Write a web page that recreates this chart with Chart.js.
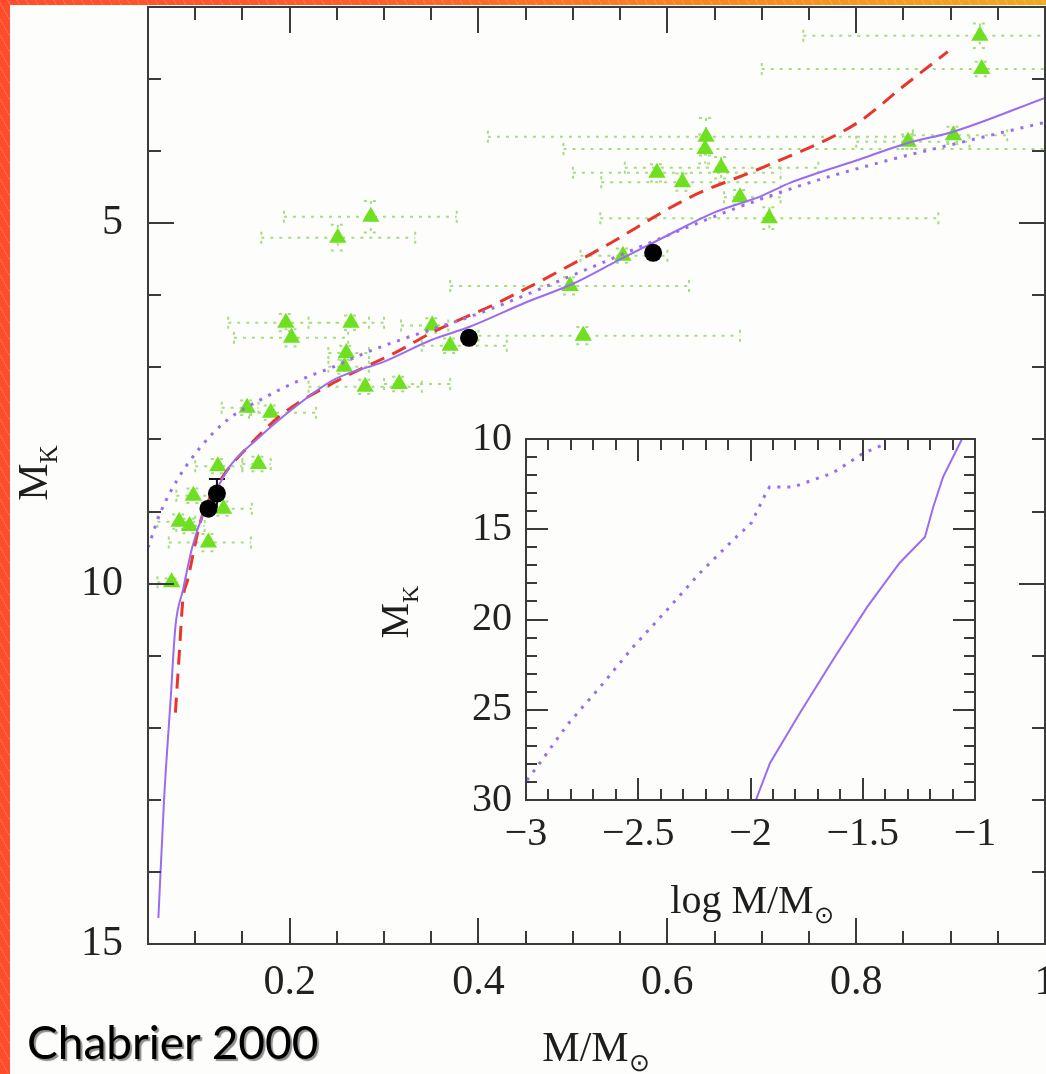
<!DOCTYPE html>
<html>
<head>
<meta charset="utf-8">
<script src="https://cdn.jsdelivr.net/npm/chart.js@4.4.1/dist/chart.umd.min.js"></script>
<style>
  html, body { margin: 0; padding: 0; }
  body {
    width: 1046px; height: 1074px; overflow: hidden; position: relative;
    background: linear-gradient(90deg, #ff4d2b 0%, #ff5d28 35%, #f7951f 80%, #f2a81f 100%);
  }
  .stripes {
    position: absolute; left: 0; top: 0; right: 0; bottom: 0;
    background: repeating-linear-gradient(60deg, rgba(255,255,255,0) 0 7px, rgba(255,255,255,0.16) 7px 8px);
  }
  .panel { position: absolute; left: 10px; top: 5px; right: 0; bottom: 0; background: #fdfdfb; }
  canvas { position: absolute; }
  .lbl {
    position: absolute; font-family: "Liberation Serif", serif; color: #1e1e1e;
    white-space: nowrap; line-height: 1; text-align: center;
  }
  .lbl sub { font-size: 0.6em; vertical-align: -0.4em; line-height: 0; }
  .rot { transform: rotate(-90deg); transform-origin: center center; }
  .credit {
    position: absolute; left: 27px; top: 1019px; font-family: Lato, "Open Sans", sans-serif;
    font-size: 46px; color: #000; text-shadow: 2px 2px 1px #8c8c8c; line-height: 1;
  }
</style>
</head>
<body>
<div class="stripes"></div>
<div class="panel"></div>
<canvas id="main" width="1046" height="1074" style="left:0;top:0"></canvas>
<canvas id="inset" width="686" height="530" style="left:360px;top:400px"></canvas>
<div class="lbl" style="left:496px;top:1026px;width:200px;font-size:42px">M/M<sub>⊙</sub></div>
<div class="lbl rot" style="left:-17px;top:452px;width:100px;font-size:42px">M<sub>K</sub></div>
<div class="lbl" style="left:652px;top:880px;width:200px;font-size:40px">log M/M<sub>⊙</sub></div>
<div class="lbl rot" style="left:345px;top:592px;width:100px;font-size:40px">M<sub>K</sub></div>
<div class="credit">Chabrier 2000</div>
<script>
// binaries with dynamical masses: mass, M_K and error ranges
const triMass   = [0.931, 0.933, 0.641, 0.640, 0.657, 0.589, 0.616, 0.677, 0.708, 0.855, 0.903, 0.553,
                   0.497, 0.511, 0.286, 0.251, 0.196, 0.202, 0.265, 0.260, 0.258, 0.280, 0.316, 0.155,
                   0.180, 0.351, 0.370, 0.124, 0.167, 0.098, 0.130, 0.083, 0.094, 0.114, 0.075];
const triMk     = [2.40, 2.86, 3.80, 3.97, 4.23, 4.30, 4.43, 4.64, 4.93, 3.87, 3.78, 5.45,
                   5.87, 6.56, 4.91, 5.20, 6.38, 6.59, 6.38, 6.80, 6.99, 7.27, 7.23, 7.56,
                   7.63, 6.42, 6.70, 8.37, 8.34, 8.78, 8.96, 9.14, 9.20, 9.43, 9.98];
const triMassLo = [0.744, 0.700, 0.410, 0.490, 0.555, 0.500, 0.530, 0.660, 0.529, 0.800, 0.860, 0.508,
                   0.370, 0.400, 0.194, 0.170, 0.135, 0.141, 0.220, 0.241, 0.241, 0.220, 0.300, 0.128,
                   0.157, 0.318, 0.340, 0.100, 0.150, 0.080, 0.110, 0.060, 0.080, 0.072, 0.060];
const triMassHi = [1.050, 1.050, 0.860, 1.050, 0.760, 0.720, 0.720, 0.720, 0.887, 0.920, 0.960, 0.600,
                   0.623, 0.677, 0.377, 0.333, 0.284, 0.262, 0.300, 0.284, 0.284, 0.340, 0.370, 0.167,
                   0.228, 0.368, 0.430, 0.150, 0.180, 0.120, 0.160, 0.100, 0.110, 0.159, 0.090];
const triMkErr  = [0.17, 0.10, 0.26, 0.20, 0.15, 0.12, 0.12, 0.10, 0.15, 0.10, 0.12, 0.10,
                   0.12, 0.12, 0.22, 0.18, 0.12, 0.12, 0.10, 0.10, 0.10, 0.10, 0.10, 0.10,
                   0.10, 0.10, 0.10, 0.10, 0.10, 0.10, 0.10, 0.10, 0.10, 0.12, 0.05];

// eclipsing systems
const dotMass  = [0.390, 0.585, 0.123, 0.114];
const dotMk    = [6.59, 5.41, 8.75, 8.96];
const dotMkErr = [0, 0, 0.20, 0];

// model mass-luminosity relations
const solidMass  = [0.061, 0.067, 0.074, 0.079, 0.087, 0.097, 0.109, 0.124, 0.138, 0.167, 0.198, 0.247,
                    0.300, 0.350, 0.390, 0.450, 0.500, 0.550, 0.600, 0.650, 0.700, 0.730, 0.800, 0.854, 0.903, 1.000];
const solidMk    = [14.64, 13.00, 11.60, 10.60, 10.09, 9.49, 9.02, 8.66, 8.35, 7.98, 7.63, 7.17,
                    6.92, 6.62, 6.44, 6.10, 5.84, 5.50, 5.17, 4.85, 4.62, 4.44, 4.13, 3.89, 3.73, 3.26];
const dottedMass = [0.050, 0.063, 0.081, 0.106, 0.134, 0.169, 0.212, 0.247, 0.280, 0.317, 0.403, 0.500,
                    0.589, 0.667, 0.750, 0.836, 0.920, 1.000];
const dottedMk   = [9.50, 9.02, 8.56, 8.10, 7.73, 7.45, 7.17, 6.99, 6.80, 6.62, 6.24, 5.72,
                    5.23, 4.82, 4.44, 4.12, 3.85, 3.60];
const dashedMass = [0.079, 0.083, 0.087, 0.092, 0.106, 0.127, 0.156, 0.194, 0.247, 0.317, 0.350, 0.421,
                    0.527, 0.624, 0.702, 0.801, 0.850, 0.897];
const dashedMk   = [11.79, 11.00, 10.22, 9.95, 9.12, 8.56, 8.10, 7.63, 7.21, 6.76, 6.52, 6.10,
                    5.37, 4.64, 4.22, 3.61, 3.10, 2.62];

// brown dwarf regime, log mass
const insetSolidLogM = [-1.976, -1.913, -1.780, -1.633, -1.480, -1.336, -1.223, -1.186, -1.142, -1.058];
const insetSolidMk   = [30.00, 27.95, 25.18, 22.24, 19.30, 16.87, 15.43, 13.77, 12.10, 10.00];
const insetDotLogM   = [-2.996, -2.951, -2.817, -2.670, -2.523, -2.372, -2.225, -2.078, -1.996, -1.929,
                        -1.915, -1.810, -1.633, -1.497, -1.410];
const insetDotMk     = [28.90, 28.17, 25.85, 23.74, 21.52, 19.47, 17.42, 15.60, 14.65, 12.94,
                        12.66, 12.66, 11.88, 10.78, 10.33];

const xTicks = [0.2, 0.4, 0.6, 0.8, 1];
const yTicks = [5, 10, 15];
const insetXTicks = [-3, -2.5, -2, -1.5, -1];
const insetYTicks = [10, 15, 20, 25, 30];

const pts = (xs, ys) => xs.map((v, i) => ({ x: v, y: ys[i] }));
const serif = { family: '"Liberation Serif", serif' };
const purple = '#9a6cf0';

// box with inward ticks on all four sides
const frameTicks = {
  id: 'frameTicks',
  beforeDraw(chart, args, o) {
    if (!o.fill) return;
    const a = chart.chartArea;
    chart.ctx.fillStyle = o.fill;
    chart.ctx.fillRect(a.left, a.top, a.right - a.left, a.bottom - a.top);
  },
  afterDatasetsDraw(chart, args, o) {
    const { ctx, chartArea: a, scales: { x, y } } = chart;
    const seg = (x0, y0, x1, y1) => { ctx.moveTo(x0, y0); ctx.lineTo(x1, y1); };
    const isMajor = (v, step) => Math.abs(v / step - Math.round(v / step)) < 1e-6;
    ctx.save();
    ctx.strokeStyle = '#3a3a3a';
    ctx.lineWidth = 2;
    ctx.beginPath();
    ctx.rect(a.left, a.top, a.right - a.left, a.bottom - a.top);
    for (let i = 0; ; i++) {
      const v = o.x[0] + i * o.x[1];
      if (v > x.max + 1e-9) break;
      const len = isMajor(v, o.x[2]) ? o.major : o.minor;
      const px = Math.round(x.getPixelForValue(v));
      seg(px, a.bottom, px, a.bottom - len);
      seg(px, a.top, px, a.top + len);
    }
    for (let i = 0; ; i++) {
      const v = o.y[0] + i * o.y[1];
      if (v > Math.max(y.min, y.max) + 1e-9) break;
      const len = isMajor(v, o.y[2]) ? o.major : o.minor;
      const py = Math.round(y.getPixelForValue(v));
      seg(a.left, py, a.left + len, py);
      seg(a.right, py, a.right - len, py);
    }
    ctx.stroke();
    ctx.restore();
  }
};

// dotted error crosses behind the markers
const errorBars = {
  id: 'errorBars',
  beforeDatasetsDraw(chart, args, o) {
    if (!o.on) return;
    const { ctx, chartArea: a, scales: { x, y } } = chart;
    const seg = (x0, y0, x1, y1) => { ctx.moveTo(x0, y0); ctx.lineTo(x1, y1); };
    ctx.save();
    ctx.beginPath();
    ctx.rect(a.left, a.top, a.right - a.left, a.bottom - a.top);
    ctx.clip();
    ctx.strokeStyle = '#a6dc84';
    ctx.lineWidth = 2;
    ctx.setLineDash([3, 6]);
    ctx.beginPath();
    triMass.forEach((m, i) => {
      const px = x.getPixelForValue(m), py = y.getPixelForValue(triMk[i]);
      const x0 = x.getPixelForValue(triMassLo[i]), x1 = x.getPixelForValue(triMassHi[i]);
      const y0 = y.getPixelForValue(triMk[i] - triMkErr[i]), y1 = y.getPixelForValue(triMk[i] + triMkErr[i]);
      seg(x0, py, x1, py);
      seg(x0, py - 6, x0, py + 6);
      seg(x1, py - 6, x1, py + 6);
      seg(px, y0, px, y1);
      seg(px - 7, y0, px + 7, y0);
      seg(px - 7, y1, px + 7, y1);
    });
    ctx.stroke();
    ctx.setLineDash([]);
    ctx.strokeStyle = '#111';
    ctx.beginPath();
    dotMass.forEach((m, i) => {
      if (!dotMkErr[i]) return;
      const px = x.getPixelForValue(m);
      const y0 = y.getPixelForValue(dotMk[i] - dotMkErr[i]), y1 = y.getPixelForValue(dotMk[i] + dotMkErr[i]);
      seg(px, y0, px, y1);
      seg(px - 8, y0, px + 8, y0);
    });
    ctx.stroke();
    ctx.restore();
  }
};

const fixAxis = (size) => (scale) => {
  if (scale.isHorizontal()) scale.height = size; else scale.width = size;
  scale.paddingLeft = scale.paddingRight = scale.paddingTop = scale.paddingBottom = 0;
};
const setTicks = (list) => (scale) => { scale.ticks = list.map(v => ({ value: v })); };

new Chart(document.getElementById('main'), {
  data: {
    datasets: [
      { type: 'scatter', data: pts(dotMass, dotMk), pointStyle: 'circle', pointRadius: 9,
        backgroundColor: '#000', borderWidth: 0, order: 0 },
      { type: 'line', data: pts(solidMass, solidMk), borderColor: purple, borderWidth: 2,
        pointRadius: 0, cubicInterpolationMode: 'monotone', order: 1 },
      { type: 'line', data: pts(dottedMass, dottedMk), borderColor: purple, borderWidth: 3,
        borderDash: [3, 7], pointRadius: 0, cubicInterpolationMode: 'monotone', order: 1 },
      { type: 'line', data: pts(dashedMass, dashedMk), borderColor: '#e8362c', borderWidth: 3,
        borderDash: [15, 9], pointRadius: 0, cubicInterpolationMode: 'monotone', order: 1 },
      { type: 'scatter', data: pts(triMass, triMk), pointStyle: 'triangle', pointRadius: 10,
        backgroundColor: '#6fe020', borderWidth: 0, order: 2 }
    ]
  },
  options: {
    responsive: false,
    animation: false,
    devicePixelRatio: 1,
    layout: { autoPadding: false, padding: { left: 0, top: 7, right: 1, bottom: 70 } },
    plugins: {
      legend: { display: false },
      tooltip: { enabled: false },
      frameTicks: { x: [0.05, 0.05, 0.2], y: [2, 1, 5], major: 26, minor: 13 },
      errorBars: { on: true }
    },
    scales: {
      x: {
        type: 'linear', min: 0.05, max: 1,
        grid: { display: false, drawTicks: false }, border: { display: false },
        afterBuildTicks: setTicks(xTicks), afterFit: fixAxis(60),
        ticks: { autoSkip: false, padding: 14, color: '#222', font: { ...serif, size: 42 },
                 callback: v => String(v) }
      },
      y: {
        type: 'linear', min: 2, max: 15, reverse: true,
        grid: { display: false, drawTicks: false }, border: { display: false },
        afterBuildTicks: setTicks(yTicks), afterFit: fixAxis(148),
        ticks: { autoSkip: false, padding: 25, color: '#222', font: { ...serif, size: 42 },
                 callback: v => String(v) }
      }
    }
  },
  plugins: [frameTicks, errorBars]
});

new Chart(document.getElementById('inset'), {
  data: {
    datasets: [
      { type: 'line', data: pts(insetSolidLogM, insetSolidMk), borderColor: purple, borderWidth: 2,
        pointRadius: 0 },
      { type: 'line', data: pts(insetDotLogM, insetDotMk), borderColor: purple, borderWidth: 3,
        borderDash: [3, 7], pointRadius: 0 }
    ]
  },
  options: {
    responsive: false,
    animation: false,
    devicePixelRatio: 1,
    layout: { autoPadding: false, padding: { left: 0, top: 39, right: 71, bottom: 50 } },
    plugins: {
      legend: { display: false },
      tooltip: { enabled: false },
      frameTicks: { x: [-3, 0.1, 0.5], y: [10, 1, 5], major: 22, minor: 11, fill: '#fdfdfb' },
      errorBars: { on: false }
    },
    scales: {
      x: {
        type: 'linear', min: -3, max: -1,
        grid: { display: false, drawTicks: false }, border: { display: false },
        afterBuildTicks: setTicks(insetXTicks), afterFit: fixAxis(80),
        ticks: { autoSkip: false, padding: 10, color: '#222', font: { ...serif, size: 40 },
                 callback: v => String(v).replace('-', '\u2212') }
      },
      y: {
        type: 'linear', min: 10, max: 30, reverse: true,
        grid: { display: false, drawTicks: false }, border: { display: false },
        afterBuildTicks: setTicks(insetYTicks), afterFit: fixAxis(166),
        ticks: { autoSkip: false, padding: 14, color: '#222', font: { ...serif, size: 40 },
                 callback: v => String(v) }
      }
    }
  },
  plugins: [frameTicks, errorBars]
});
</script>
</body>
</html>
